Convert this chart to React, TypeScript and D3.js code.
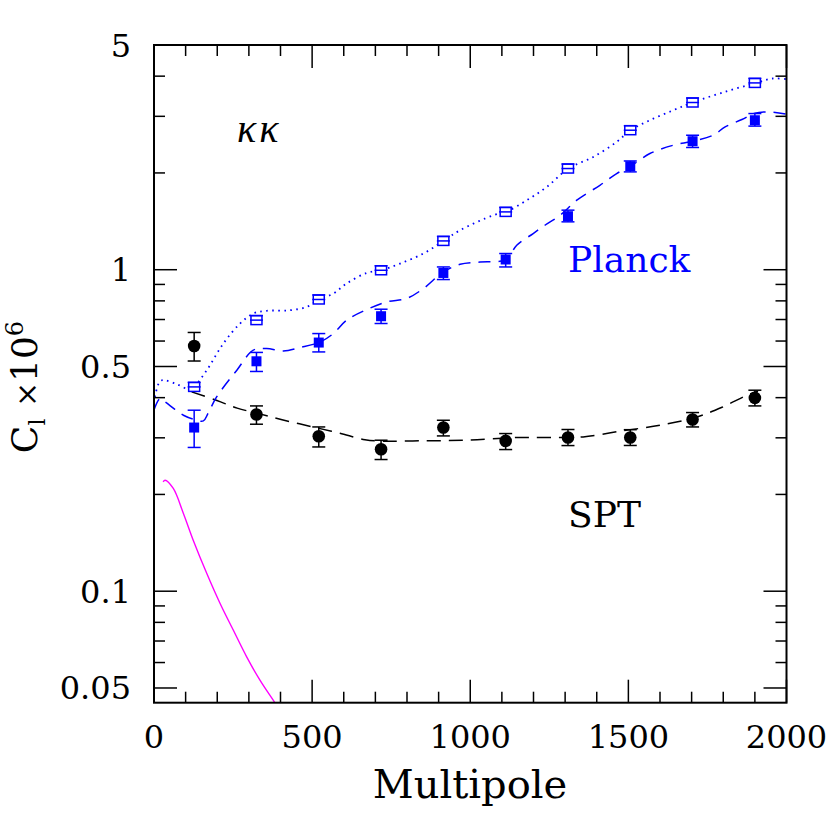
import React from "react";
import * as d3 from "d3";

// Multipole bin centres
const ells = [127, 324, 521, 718, 915, 1112, 1309, 1506, 1703, 1900];

// SPT measurements (black circles)
const sptVals = [0.579, 0.3545, 0.3033, 0.2764, 0.3229, 0.2934, 0.3007, 0.3007, 0.342, 0.3993];
const sptLo = [0.52, 0.3307, 0.281, 0.2568, 0.3041, 0.2758, 0.2838, 0.284, 0.3243, 0.377];
const sptHi = [0.638, 0.377, 0.3243, 0.2949, 0.3402, 0.3093, 0.3184, 0.318, 0.3595, 0.4219];

// Planck measurements (filled blue squares)
const planckVals = [0.3229, 0.519, 0.5935, 0.7167, 0.977, 1.076, 1.467, 2.098, 2.51, 2.917];
const planckLo = [0.28, 0.4825, 0.555, 0.6803, 0.932, 1.02, 1.409, 2.015, 2.4, 2.797];
const planckHi = [0.3656, 0.553, 0.633, 0.7536, 1.02, 1.123, 1.532, 2.179, 2.62, 3.06];

// Planck noiseless (open blue squares)
const planckOpenVals = [0.432, 0.697, 0.808, 0.996, 1.229, 1.513, 2.064, 2.716, 3.312, 3.811];

// Blue dotted theory curve
const dottedEll = [3, 19, 35, 73, 114, 127, 167, 219, 272, 314, 356, 430, 483, 522, 567, 609, 673, 719, 778, 852, 915, 968, 1073, 1113, 1179, 1242, 1310, 1389, 1463, 1507, 1568, 1642, 1703, 1806, 1904, 1957, 2000];
const dottedVal = [0.402, 0.45, 0.453, 0.44, 0.424, 0.432, 0.487, 0.589, 0.68, 0.731, 0.745, 0.748, 0.766, 0.808, 0.843, 0.906, 0.977, 0.996, 1.045, 1.123, 1.229, 1.327, 1.477, 1.513, 1.645, 1.809, 2.064, 2.243, 2.498, 2.716, 2.917, 3.134, 3.312, 3.578, 3.811, 3.933, 3.913];

// Blue dashed theory curve
const dashedEll = [0, 19, 35, 66, 93, 130, 156, 171, 198, 262, 314, 356, 409, 462, 525, 567, 609, 673, 736, 799, 852, 915, 968, 1031, 1113, 1147, 1199, 1236, 1284, 1337, 1410, 1463, 1507, 1568, 1642, 1703, 1768, 1806, 1859, 1900, 1948, 2000];
const dashedVal = [0.366, 0.3975, 0.388, 0.368, 0.3527, 0.3415, 0.3386, 0.3578, 0.402, 0.487, 0.5619, 0.5688, 0.559, 0.573, 0.596, 0.633, 0.6965, 0.752, 0.794, 0.814, 0.874, 0.984, 1.04, 1.057, 1.076, 1.192, 1.296, 1.375, 1.477, 1.645, 1.831, 1.991, 2.099, 2.298, 2.439, 2.51, 2.62, 2.781, 2.932, 3.067, 3.096, 3.046];

// Black dashed theory curve (SPT)
const sptTheoryEll = [119, 199, 263, 325, 405, 522, 588, 667, 724, 841, 987, 1148, 1274, 1357, 1474, 1600, 1717, 1799, 1875, 1910];
const sptTheoryVal = [0.417, 0.392, 0.371, 0.358, 0.3415, 0.321, 0.31, 0.296, 0.2927, 0.2937, 0.2948, 0.3006, 0.3006, 0.302, 0.3146, 0.3284, 0.3484, 0.3745, 0.407, 0.4188];

// Magenta curve
const magEll = [29, 35, 61, 93, 124, 167, 209, 251, 293, 335, 383, 420];
const magVal = [0.2187, 0.2214, 0.2087, 0.1745, 0.1441, 0.1135, 0.0916, 0.0756, 0.0625, 0.0529, 0.0449, 0.0395];

const yMajor = [0.05, 0.1, 0.5, 1, 5];
const yMinor = [0.06, 0.07, 0.08, 0.09, 0.2, 0.3, 0.4, 0.6, 0.7, 0.8, 0.9, 2, 3, 4];
const yLabels = ["0.05", "0.1", "0.5", "1", "5"];
const xMajor = [0, 500, 1000, 1500, 2000];
const xMinor = d3.range(100, 2000, 100).filter((v) => v % 500 !== 0);

const BLUE = "#0000ff";
const FONT = "DejaVu Serif";

export default function App() {
  const x = d3.scaleLinear().domain([0, 2000]).range([154, 786.5]);
  const y = d3.scaleLog().domain([0.045, 5]).range([702.7, 45]);
  const [x0, x1] = x.range();
  const [y0, y1] = y.range();

  const line = (ls: number[], vs: number[]) =>
    d3
      .line<number>()
      .x((_, i) => x(ls[i]))
      .y((v) => y(v))
      .curve(d3.curveCatmullRom.alpha(0.5))(vs) || "";

  const minorLen = 11;
  const majorLen = 23;
  const cap = 6.5;

  return (
    <svg width={830} height={830} style={{ display: "block", position: "absolute", left: 0, top: 0, background: "#fff" }}>
      <defs>
        <clipPath id="plot">
          <rect x={x0} y={y1} width={x1 - x0} height={y0 - y1} />
        </clipPath>
      </defs>
      <rect x={0} y={0} width={830} height={830} fill="#fff" />

      {/* curves */}
      <g clipPath="url(#plot)" fill="none">
        <path d={line(magEll, magVal)} stroke="#ff00ff" strokeWidth={1.4} />
        <path d={line(sptTheoryEll, sptTheoryVal)} stroke="#000" strokeWidth={1.5} strokeDasharray="14 8" />
        <path d={line(dashedEll, dashedVal)} stroke={BLUE} strokeWidth={1.5} strokeDasharray="12 8" />
        <path d={line(dottedEll, dottedVal)} stroke={BLUE} strokeWidth={1.8} strokeDasharray="1.6 4.4" />
      </g>

      {/* SPT points */}
      <g>
        {ells.map((l, i) => (
          <g key={"s" + i} stroke="#000" strokeWidth={1.5}>
            <line x1={x(l)} x2={x(l)} y1={y(sptLo[i])} y2={y(sptHi[i])} />
            <line x1={x(l) - cap} x2={x(l) + cap} y1={y(sptLo[i])} y2={y(sptLo[i])} />
            <line x1={x(l) - cap} x2={x(l) + cap} y1={y(sptHi[i])} y2={y(sptHi[i])} />
            <circle cx={x(l)} cy={y(sptVals[i])} r={6.3} fill="#000" stroke="none" />
          </g>
        ))}
      </g>

      {/* Planck filled */}
      <g>
        {ells.map((l, i) => (
          <g key={"p" + i} stroke={BLUE} strokeWidth={1.5}>
            <line x1={x(l)} x2={x(l)} y1={y(planckLo[i])} y2={y(planckHi[i])} />
            <line x1={x(l) - cap} x2={x(l) + cap} y1={y(planckLo[i])} y2={y(planckLo[i])} />
            <line x1={x(l) - cap} x2={x(l) + cap} y1={y(planckHi[i])} y2={y(planckHi[i])} />
            <rect x={x(l) - 5} y={y(planckVals[i]) - 5} width={10} height={10} fill={BLUE} stroke="none" />
          </g>
        ))}
      </g>

      {/* Planck open */}
      <g>
        {ells.map((l, i) => (
          <g key={"o" + i} stroke={BLUE} strokeWidth={1.5} fill="#fff">
            <rect x={x(l) - 5.5} y={y(planckOpenVals[i]) - 4.5} width={11} height={9} />
            <line x1={x(l) - 6.5} x2={x(l) + 6.5} y1={y(planckOpenVals[i])} y2={y(planckOpenVals[i])} />
            <line x1={x(l) - cap} x2={x(l) + cap} y1={y(planckOpenVals[i]) - 4.5} y2={y(planckOpenVals[i]) - 4.5} />
          </g>
        ))}
      </g>

      {/* frame */}
      <rect x={x0} y={y1} width={x1 - x0} height={y0 - y1} fill="none" stroke="#000" strokeWidth={2} />

      {/* ticks */}
      <g stroke="#000" strokeWidth={1.5}>
        {xMinor.map((v) => (
          <g key={"xm" + v}>
            <line x1={x(v)} x2={x(v)} y1={y0} y2={y0 - minorLen} />
            <line x1={x(v)} x2={x(v)} y1={y1} y2={y1 + minorLen} />
          </g>
        ))}
        {xMajor.map((v) => (
          <g key={"xM" + v}>
            <line x1={x(v)} x2={x(v)} y1={y0} y2={y0 - majorLen} />
            <line x1={x(v)} x2={x(v)} y1={y1} y2={y1 + majorLen} />
          </g>
        ))}
        {yMinor.map((v) => (
          <g key={"ym" + v}>
            <line x1={x0} x2={x0 + minorLen} y1={y(v)} y2={y(v)} />
            <line x1={x1} x2={x1 - minorLen} y1={y(v)} y2={y(v)} />
          </g>
        ))}
        {yMajor.map((v) => (
          <g key={"yM" + v}>
            <line x1={x0} x2={x0 + majorLen} y1={y(v)} y2={y(v)} />
            <line x1={x1} x2={x1 - majorLen} y1={y(v)} y2={y(v)} />
          </g>
        ))}
      </g>

      {/* tick labels */}
      <g fontFamily={FONT} fontSize={32} fill="#000">
        {xMajor.map((v) => (
          <text key={"xl" + v} x={x(v)} y={748} textAnchor="middle">
            {String(v)}
          </text>
        ))}
        {yMajor.map((v, i) => (
          <text key={"yl" + v} x={131} y={y(v) + 11.5} textAnchor="end">
            {yLabels[i]}
          </text>
        ))}
      </g>

      {/* axis titles */}
      <text x={470} y={798} textAnchor="middle" fontFamily={FONT} fontSize={40} fill="#000">
        Multipole
      </text>
      <text
        transform="translate(37,387) rotate(-90)"
        textAnchor="middle"
        fontFamily={FONT}
        fontSize={36}
        fill="#000"
      >
        C
        <tspan fontSize={22} dy={8}>l</tspan>
        <tspan dy={-8}> </tspan>
        <tspan fontSize={30}>×</tspan>
        <tspan>10</tspan>
        <tspan fontSize={24} dy={-14}>6</tspan>
      </text>

      {/* annotations */}
      <text x={237} y={142} fontFamily="Liberation Serif" fontStyle="italic" fontSize={40} letterSpacing={3} fill="#000">
        κκ
      </text>
      <text x={568} y={272} fontFamily={FONT} fontSize={36} fill={BLUE}>
        Planck
      </text>
      <text x={568} y={527} fontFamily={FONT} fontSize={36} fill="#000">
        SPT
      </text>
    </svg>
  );
}
